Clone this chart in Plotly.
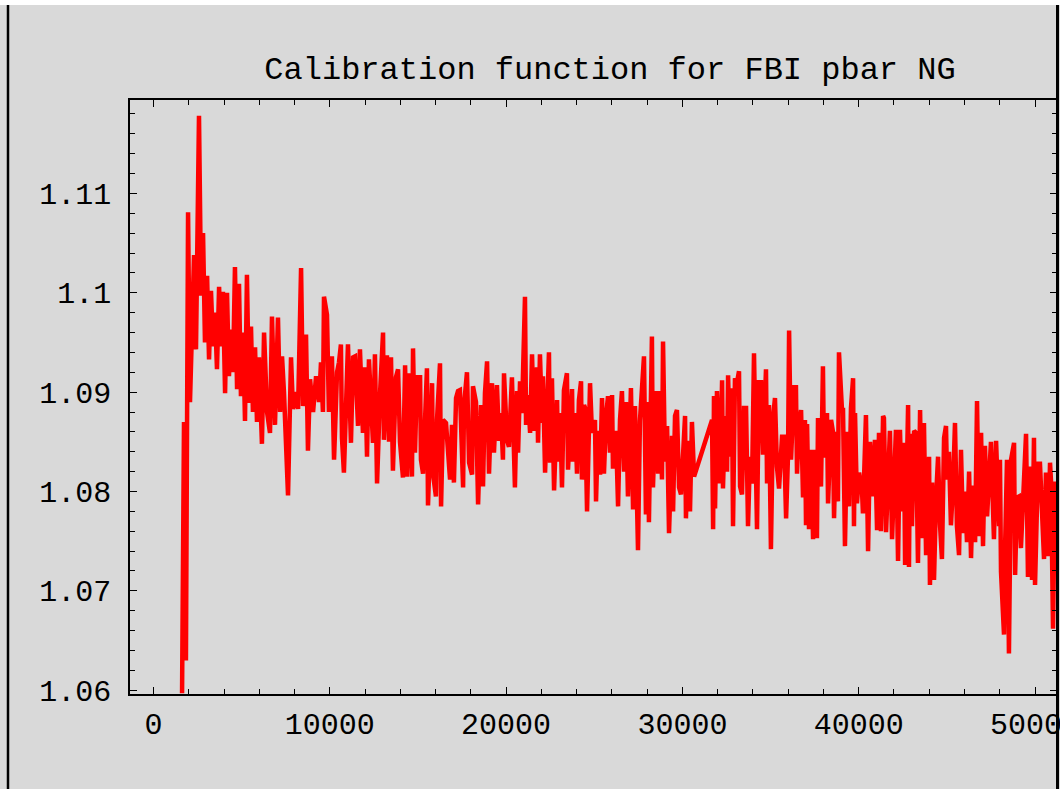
import plotly.graph_objects as go

# ---- data ----
sample_x = [
    1620, 1730, 1840, 1960, 2070, 2180, 2300, 2410, 2580, 2700, 2810, 2920, 3040, 3150, 3260, 3380,
    3490, 3600, 3720, 3830, 3940, 4060, 4170, 4280, 4400, 4510, 4620, 4740, 4850, 4960, 5080, 5190,
    5300, 5420, 5530, 5640, 5760, 5870, 5980, 6150, 6270, 6440, 6608, 6720, 6890, 7060, 7180, 7290,
    7400, 7630, 7800, 7910, 8080, 8200, 8370, 8480, 8650, 8760, 8880, 9050, 9220, 9390, 9500, 9610,
    9670, 9840, 9950, 10120, 10240, 10410, 10520, 10630, 10690, 10800, 10970, 11030, 11200, 11320,
    11430, 11600, 11710, 11880, 12000, 12110, 12220, 12450, 12560, 12680, 12850, 13020, 13070, 13240,
    13360, 13470, 13580, 13750, 13870, 13980, 14150, 14270, 14380, 14490, 14660, 14720, 14830, 14950,
    15120, 15170, 15290, 15510, 15570, 15800, 15850, 16020, 16080, 16250, 16310, 16420, 16590, 16700,
    16820, 16930, 17040, 17160, 17270, 17380, 17560, 17610, 17780, 17900, 18070, 18120, 18290, 18410,
    18580, 18690, 18800, 18920, 19030, 19200, 19310, 19480, 19600, 19710, 19820, 19880, 20050, 20160,
    20330, 20500, 20620, 20680, 20790, 20900, 21070, 21130, 21240, 21360,
    21470, 21580, 21750, 21810, 21920, 22040, 22090, 22210, 22430, 22490, 22600, 22720, 22890, 22940,
    23060, 23170, 23280, 23450, 23510, 23740, 23790, 23910, 24020, 24130, 24250, 24300, 24420, 24480,
    24590, 24760, 24870, 25040, 25100, 25210, 25330, 25440, 25550, 25670, 25780, 25890, 26010, 26060,
    26230, 26350, 26460, 26570, 26690, 26800, 26910, 27080, 27200, 27310, 27480, 27590, 27710, 27820,
    27930, 28050, 28100, 28270, 28330, 28500, 28620, 28730, 28840, 28900, 29010, 29130, 29240, 29410,
    29470, 29580, 29690, 29810, 29920, 30030, 30150, 30200, 30320, 30430, 30540, 30660,
    31680, 31740, 31790, 31850, 31960, 32130, 32250, 32300, 32420, 32530, 32590, 32700, 32810, 32870,
    32980, 33100, 33210, 33270, 33380, 33490, 33610, 33720, 33830, 33950, 34060, 34230, 34340, 34460,
    34570, 34740, 34800, 34910, 35020, 35140, 35250, 35360, 35480, 35650, 35760, 35880, 35990, 36050,
    36160, 36330, 36440, 36500, 36610, 36730, 36840, 36950, 37010, 37070, 37180, 37290, 37410, 37520,
    37630, 37690, 37860, 37970, 38030, 38200, 38260, 38430, 38540, 38600, 38710, 38820, 38880, 39050,
    39110, 39220, 39340, 39450, 39560, 39680, 39730, 39790, 39900, 40020, 40190, 40240, 40410, 40530,
    40640, 40810, 40920, 41040, 41150,
    41260, 41380, 41430, 41550, 41660, 41770, 41890, 42000, 42110, 42230, 42340, 42460, 42570, 42630,
    42800, 42850, 42910, 43020, 43140, 43250, 43360, 43480, 43590, 43700, 43820, 43990, 44040, 44160,
    44270, 44380, 44500, 44610, 44720, 44840, 44950, 45010, 45120, 45230, 45350, 45460, 45570, 45690,
    45800, 45920, 46030, 46140, 46260, 46370, 46480, 46600, 46710, 46820, 46940, 47050, 47160, 47280,
    47390, 47500, 47670, 47790, 47960, 48010, 48070, 48240, 48300, 48410, 48520, 48640, 48810, 48870,
    48980, 49090, 49200, 49380, 49490, 49600, 49720, 49830, 49940, 50000, 50170, 50280, 50400, 50510,
    50620, 50740, 50850, 50910, 51020, 51130, 51300,
]

calib_value = [
    1.0597, 1.0870, 1.0630, 1.1081, 1.0890, 1.0980, 1.1038, 1.0943, 1.1178, 1.0997, 1.1060, 1.0950,
    1.1017, 1.0933, 1.1002, 1.0946, 1.0980, 1.0923, 1.1006, 1.0946, 1.1001, 1.0899, 1.1000, 1.0916,
    1.0963, 1.0920, 1.1026, 1.0903, 1.1009, 1.0896, 1.0960, 1.0871, 1.1018, 1.0889, 1.0966, 1.0880,
    1.0945, 1.0870, 1.0935, 1.0848, 1.0960, 1.0880, 1.0859, 1.0976, 1.0867, 1.0975, 1.0880, 1.0936,
    1.0900, 1.0796, 1.0935, 1.0883, 1.0900, 1.0883, 1.1025, 1.0886, 1.0958, 1.0841, 1.0913, 1.0880,
    1.0916, 1.0890, 1.0930, 1.0880, 1.0996, 1.0978, 1.0880, 1.0936, 1.0832, 1.0920, 1.0930, 1.0948,
    1.0854, 1.0819, 1.0920, 1.0948, 1.0849, 1.0935,
    1.0936, 1.0866, 1.0943, 1.0859, 1.0925, 1.0835, 1.0933, 1.0849, 1.0938, 1.0808, 1.0899, 1.0960,
    1.0852, 1.0937, 1.0850, 1.0935, 1.0821, 1.0915, 1.0923, 1.0850, 1.0814, 1.0927, 1.0815, 1.0919,
    1.0815, 1.0944, 1.0839, 1.0915, 1.0915, 1.0832, 1.0818, 1.0924, 1.0786, 1.0909, 1.0818, 1.0795,
    1.0872, 1.0929, 1.0785, 1.0872, 1.0869, 1.0835, 1.0812, 1.0867, 1.0809, 1.0894, 1.0901, 1.0902,
    1.0804, 1.0886, 1.0920, 1.0829, 1.0817, 1.0906, 1.0890, 1.0787, 1.0887, 1.0805, 1.0899, 1.0931,
    1.0818, 1.0909, 1.0839, 1.0907, 1.0851, 1.0879, 1.0832, 1.0919, 1.0852, 1.0845, 1.0915, 1.0804,
    1.0901, 1.0839, 1.0911, 1.0879, 1.0996, 1.0867, 1.0897, 1.0859,
    1.0938, 1.0861, 1.0925, 1.0849, 1.0938, 1.0869, 1.0916, 1.0819, 1.0940, 1.0829, 1.0914, 1.0801,
    1.0892, 1.0830, 1.0879, 1.0804, 1.0902, 1.0919, 1.0822, 1.0903, 1.0830, 1.0879, 1.0818, 1.0892,
    1.0911, 1.0812, 1.0887, 1.0884, 1.0780, 1.0909, 1.0859, 1.0872, 1.0790, 1.0861, 1.0817, 1.0894,
    1.0818, 1.0876, 1.0896, 1.0839, 1.0897, 1.0823, 1.0861, 1.0785, 1.0872, 1.0901, 1.0820, 1.0890,
    1.0795, 1.0904, 1.0782, 1.0886, 1.0741, 1.0871, 1.0902, 1.0936, 1.0777, 1.0890, 1.0769, 1.0956,
    1.0804, 1.0901, 1.0818, 1.0901, 1.0812, 1.0951, 1.0830, 1.0866, 1.0758, 1.0856, 1.0780, 1.0876,
    1.0882, 1.0804, 1.0797, 1.0829, 1.0876, 1.0773, 1.0851, 1.0780, 1.0870, 1.0815,
    1.0872, 1.0762, 1.0896, 1.0783, 1.0901, 1.0808, 1.0912, 1.0803, 1.0876, 1.0820, 1.0917, 1.0835,
    1.0904, 1.0765, 1.0914, 1.0910, 1.0921, 1.0805, 1.0797, 1.0884, 1.0884, 1.0765, 1.0835, 1.0808,
    1.0939, 1.0762, 1.0910, 1.0910, 1.0837, 1.0923, 1.0808, 1.0887, 1.0742, 1.0874, 1.0894, 1.0825,
    1.0803, 1.0855, 1.0855, 1.0773, 1.0837, 1.0962, 1.0832, 1.0905, 1.0905, 1.0818, 1.0867, 1.0882,
    1.0794, 1.0872, 1.0766, 1.0868, 1.0762, 1.0842, 1.0752, 1.0842, 1.0753, 1.0874, 1.0805, 1.0926,
    1.0834, 1.0879, 1.0788, 1.0872, 1.0860, 1.0773, 1.0860, 1.0790, 1.0940, 1.0882, 1.0882, 1.0745,
    1.0860, 1.0785, 1.0884, 1.0914, 1.0765, 1.0879, 1.0788, 1.0819, 1.0799, 1.0778, 1.0877, 1.0740,
    1.0850, 1.0795, 1.0852, 1.0761, 1.0859,
    1.0760, 1.0876, 1.0874, 1.0759, 1.0814, 1.0861, 1.0752, 1.0825, 1.0862, 1.0730, 1.0862, 1.0780,
    1.0849, 1.0726, 1.0887, 1.0724, 1.0858, 1.0765, 1.0861, 1.0859, 1.0728, 1.0882, 1.0753, 1.0869,
    1.0736, 1.0835, 1.0706, 1.0809, 1.0711, 1.0791, 1.0835, 1.0767, 1.0732, 1.0854, 1.0866, 1.0812,
    1.0840, 1.0766, 1.0806, 1.0869, 1.0765, 1.0736, 1.0842, 1.0758, 1.0800, 1.0749, 1.0820, 1.0733,
    1.0806, 1.0749, 1.0891, 1.0755, 1.0859, 1.0745, 1.0846, 1.0775, 1.0827, 1.0850, 1.0752, 1.0851,
    1.0765, 1.0832, 1.0719, 1.0656, 1.0743, 1.0832, 1.0637, 1.0832, 1.0849, 1.0716, 1.0794, 1.0795,
    1.0743, 1.0827, 1.0858, 1.0714, 1.0825, 1.0711, 1.0854, 1.0706, 1.0828, 1.0828, 1.0772, 1.0732,
    1.0819, 1.0735, 1.0829, 1.0809, 1.0662, 1.0810, 1.0760,
]

x_tick_values = [0, 10000, 20000, 30000, 40000, 50000]
x_tick_labels = ["0", "10000", "20000", "30000", "40000", "50000"]
y_tick_values = [1.06, 1.07, 1.08, 1.09, 1.10, 1.11]
y_tick_labels = ["1.06", "1.07", "1.08", "1.09", "1.1", "1.11"]
title_text = "Calibration function for FBI pbar NG"

# ---- figure ----
W, H = 1060, 789
ML, MR, MT, MB = 130, 3, 100, 95
PW, PH = W - ML - MR, H - MT - MB
GRAY = "#d9d9d9"
MONO = "Liberation Mono, Courier New, monospace"

fig = go.Figure()
fig.add_trace(go.Scatter(
    x=sample_x, y=calib_value, mode="lines",
    line=dict(color="#ff0000", width=4.5),
    showlegend=False, hoverinfo="skip",
))

axis_common = dict(
    showgrid=False, zeroline=False, showline=True, linecolor="#000000", linewidth=1.5,
    mirror="ticks", ticks="inside", tickcolor="#000000", tickwidth=1.2,
    tickfont=dict(family=MONO, size=30, color="#000000"),
    ticklabeloverflow="allow", automargin=False,
)

fig.update_xaxes(
    range=[-1333, 51246], tickvals=x_tick_values, ticktext=x_tick_labels,
    ticklen=7, ticklabelstandoff=2,
    minor=dict(ticks="inside", ticklen=5, dtick=2000, tick0=0, tickcolor="#000000", tickwidth=1),
    **axis_common,
)
fig.update_yaxes(
    range=[1.05962, 1.1194], tickvals=y_tick_values, ticktext=y_tick_labels,
    ticklen=7, ticklabelstandoff=11,
    minor=dict(ticks="inside", ticklen=5, dtick=0.002, tick0=1.06, tickcolor="#000000", tickwidth=1),
    **axis_common,
)

def px_x(p):
    return (p - ML) / PW

def px_y(p):
    return 1 - (p - MT) / PH

shapes = [
    # white strip along the top edge
    dict(type="rect", xref="paper", yref="paper", x0=px_x(-5), x1=px_x(W + 5),
         y0=px_y(5), y1=px_y(-5), fillcolor="#ffffff", line=dict(width=0), layer="above"),
    # left border line
    dict(type="line", xref="paper", yref="paper", x0=px_x(8), x1=px_x(8),
         y0=px_y(5), y1=px_y(H + 5), line=dict(color="#000000", width=2.5), layer="above"),
    # right border line
    dict(type="line", xref="paper", yref="paper", x0=px_x(1057.5), x1=px_x(1057.5),
         y0=px_y(5), y1=px_y(H + 5), line=dict(color="#000000", width=3), layer="above"),
]

fig.update_layout(
    width=W, height=H, autosize=False,
    margin=dict(l=ML, r=MR, t=MT, b=MB, pad=0, autoexpand=False),
    paper_bgcolor=GRAY, plot_bgcolor=GRAY,
    title=dict(text=title_text, x=(610 - ML) / PW, xref="paper", xanchor="center",
               y=1 - 68 / H, yref="container", yanchor="middle",
               font=dict(family=MONO, size=32, color="#000000")),
    shapes=shapes,
)

fig.write_html(
    "out.html",
    config={"displayModeBar": False},
    post_script="document.body.style.margin='0';document.body.style.overflow='hidden';",
)
